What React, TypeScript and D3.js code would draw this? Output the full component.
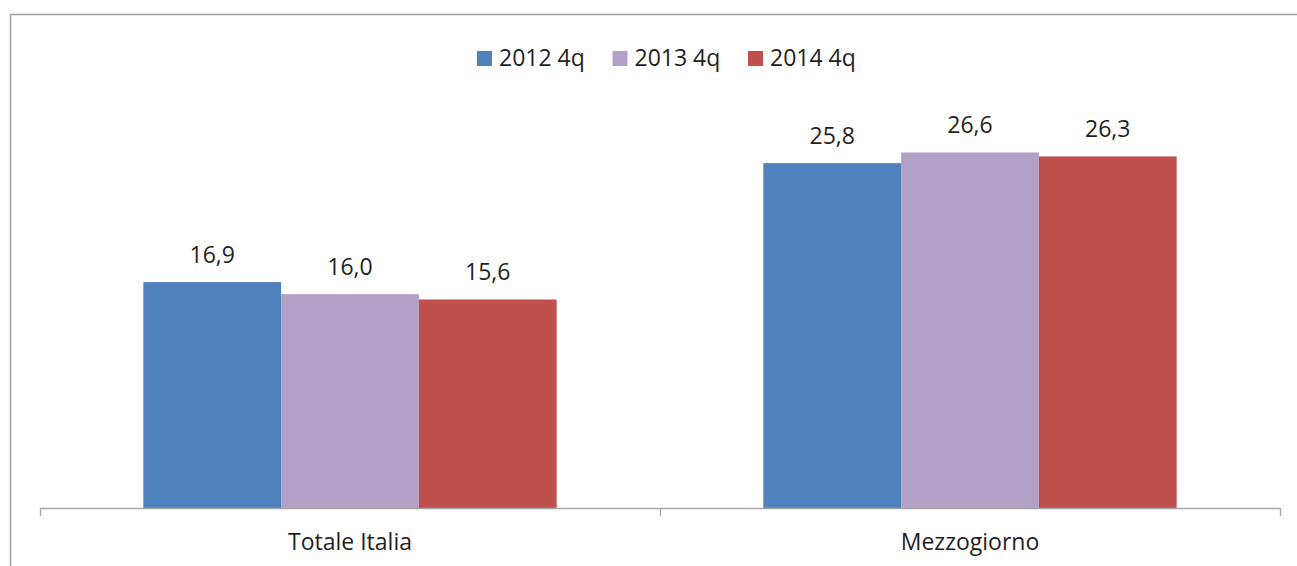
import React, { useEffect, useRef } from 'react';
import * as d3 from 'd3';

// Chart data
const categories = ['Totale Italia', 'Mezzogiorno'];
const seriesNames = ['2012 4q', '2013 4q', '2014 4q'];
const seriesColors = ['#4f81bd', '#b2a1c7', '#c0504d'];
const values2012 = [16.9, 25.8];
const values2013 = [16.0, 26.6];
const values2014 = [15.6, 26.3];
const yDomain = [0, 30];

interface Bar {
  cat: string;
  series: string;
  color: string;
  value: number;
}

const App = () => {
  const ref = useRef<SVGSVGElement>(null);

  useEffect(() => {
    if (!ref.current) return;
    const svg = d3.select(ref.current);
    svg.selectAll('*').remove();

    const width = 1297;
    const height = 566;
    const font = "'Open Sans', 'DejaVu Sans', sans-serif";
    const fontSize = '23px';
    const textColor = '#1f1f1f';
    const baseY = 508;

    const allValues = [values2012, values2013, values2014];
    const bars: Bar[] = [];
    categories.forEach((c, i) => {
      seriesNames.forEach((s, j) => {
        bars.push({ cat: c, series: s, color: seriesColors[j], value: allValues[j][i] });
      });
    });

    const x = d3.scaleBand<string>().domain(categories).range([40, 1280]).padding(0);
    const xs = d3.scaleBand<string>().domain(seriesNames).range([0, x.bandwidth()])
      .paddingInner(0).paddingOuter(0.75);
    const y = d3.scaleLinear().domain(yDomain).range([baseY, 107]);

    const locale = d3.formatLocale({ decimal: ',', thousands: '.', grouping: [3], currency: ['', '€'] });
    const fmt = locale.format('.1f');

    // outer frame (top and left edges visible)
    svg.append('path')
      .attr('d', `M10.5,${height} L10.5,14.5 L${width},14.5`)
      .attr('fill', 'none')
      .attr('stroke', '#a0a0a0')
      .attr('stroke-width', 1.5);

    // bars
    svg.append('g').selectAll('rect')
      .data(bars)
      .enter()
      .append('rect')
      .attr('x', d => (x(d.cat) || 0) + (xs(d.series) || 0))
      .attr('y', d => y(d.value))
      .attr('width', xs.bandwidth())
      .attr('height', d => y(0) - y(d.value))
      .attr('fill', d => d.color);

    // value labels
    svg.append('g').selectAll('text')
      .data(bars)
      .enter()
      .append('text')
      .attr('x', d => (x(d.cat) || 0) + (xs(d.series) || 0) + xs.bandwidth() / 2)
      .attr('y', d => y(d.value) - 19)
      .attr('text-anchor', 'middle')
      .style('font-family', font)
      .style('font-size', fontSize)
      .attr('fill', textColor)
      .text(d => fmt(d.value));

    // x axis
    const axis = svg.append('g');
    axis.append('line')
      .attr('x1', x.range()[0]).attr('x2', x.range()[1])
      .attr('y1', baseY + 0.5).attr('y2', baseY + 0.5)
      .attr('stroke', '#a6a6a6').attr('stroke-width', 1.3);
    const tickXs = categories.map(c => x(c) || 0).concat([x.range()[1]]);
    axis.selectAll('line.tick')
      .data(tickXs)
      .enter()
      .append('line')
      .attr('class', 'tick')
      .attr('x1', d => d + 0.5).attr('x2', d => d + 0.5)
      .attr('y1', baseY).attr('y2', baseY + 8)
      .attr('stroke', '#a6a6a6').attr('stroke-width', 1.3);
    axis.selectAll('text')
      .data(categories)
      .enter()
      .append('text')
      .attr('x', d => (x(d) || 0) + x.bandwidth() / 2)
      .attr('y', 550)
      .attr('text-anchor', 'middle')
      .style('font-family', font)
      .style('font-size', fontSize)
      .attr('fill', textColor)
      .text(d => d);

    // legend
    const legend = svg.append('g');
    const legendX = d3.scalePoint<string>().domain(seriesNames).range([477, 748]);
    seriesNames.forEach((s, i) => {
      const lx = legendX(s) || 0;
      legend.append('rect')
        .attr('x', lx).attr('y', 51)
        .attr('width', 15).attr('height', 15)
        .attr('fill', seriesColors[i]);
      legend.append('text')
        .attr('x', lx + 22)
        .attr('y', 66)
        .style('font-family', font)
        .style('font-size', fontSize)
        .attr('fill', textColor)
        .text(s);
    });
  }, []);

  return (
    <svg
      ref={ref}
      width={1297}
      height={566}
      style={{ position: 'absolute', left: 0, top: 0, background: '#fff' }}
    />
  );
};

export default App;
